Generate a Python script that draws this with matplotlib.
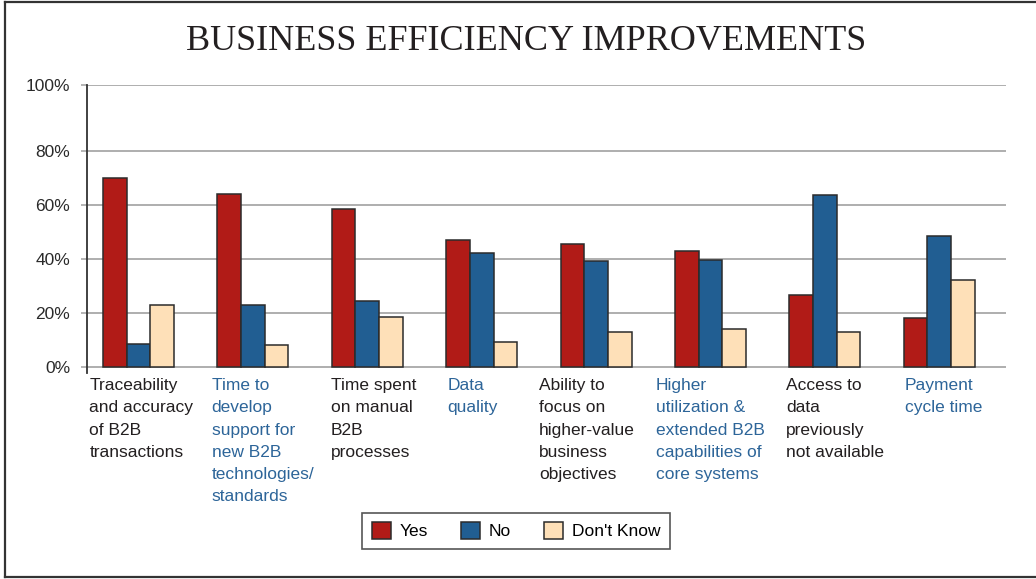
import matplotlib
matplotlib.use("Agg")
import matplotlib.pyplot as plt
import numpy as np
from matplotlib.lines import Line2D
from matplotlib.patches import Patch

# ---- data ----
categories = [
    "Traceability\nand accuracy\nof B2B\ntransactions",
    "Time to\ndevelop\nsupport for\nnew B2B\ntechnologies/\nstandards",
    "Time spent\non manual\nB2B\nprocesses",
    "Data\nquality",
    "Ability to\nfocus on\nhigher-value\nbusiness\nobjectives",
    "Higher\nutilization &\nextended B2B\ncapabilities of\ncore systems",
    "Access to\ndata\npreviously\nnot available",
    "Payment\ncycle time",
]
yes_vals = [70, 64, 58.5, 47, 45.5, 43, 26.5, 18]
no_vals = [8.5, 23, 24.5, 42, 39, 39.5, 63.5, 48.5]
dk_vals = [23, 8, 18.5, 9, 13, 14, 13, 32]
series_names = ["Yes", "No", "Don't Know"]
ytick_labels = ["0%", "20%", "40%", "60%", "80%", "100%"]

# ---- style / layout ----
colors = ["#b11b17", "#215e92", "#fee0b8"]
edge = "#2b2b2b"
label_colors = ["#231f20", "#2d6599"] * 4
label_dx = [-0.43, -0.36, -0.32, -0.30, -0.50, -0.48, -0.34, -0.30]
sans = ["Liberation Sans", "DejaVu Sans"]
serif = ["Liberation Serif", "DejaVu Serif"]
fs = 12.5

fig = plt.figure(figsize=(10.36, 5.79), dpi=100)
W, H = 1036, 579
ax = fig.add_axes([86.7 / W, 1 - 372.7 / H, (1006 - 86.7) / W, (372.7 - 85) / H])

x = np.arange(len(categories))
bw = 0.207
for k, vals in enumerate([yes_vals, no_vals, dk_vals]):
    ax.bar(x + (k - 1) * bw, vals, width=bw, color=colors[k], edgecolor=edge,
           linewidth=1.1, zorder=3)

ytop = 104.3
ax.set_ylim(-2.22, ytop)
ax.set_xlim(-0.453, 7.583)
ytick_pos = [0, 20, 40, 60, 80, ytop]
ax.set_yticks(ytick_pos)
ax.set_yticklabels(ytick_labels, fontfamily=sans, fontsize=fs, color="#2a2a2a")
for yp in ytick_pos:
    ax.axhline(yp, color="#a8a8a8", linewidth=1.3, zorder=1)
ax.tick_params(axis="y", length=4, width=1.2, color="#a8a8a8", pad=8)
ax.set_xticks([])
for s in ["top", "right", "bottom"]:
    ax.spines[s].set_visible(False)
ax.spines["left"].set_color("#333333")
ax.spines["left"].set_linewidth(1.3)
ax.spines["left"].set_zorder(4)

trans = ax.get_xaxis_transform()
for i, lab in enumerate(categories):
    ax.text(i + label_dx[i], -0.019, lab, transform=trans, ha="left", va="top",
            fontsize=fs, fontfamily=sans, color=label_colors[i], linespacing=1.6)

fig.text(0.508, 1 - 41 / H, "BUSINESS EFFICIENCY IMPROVEMENTS", ha="center", va="center",
         fontsize=26, fontfamily=serif, color="#231f20")

handles = [Patch(facecolor=colors[k], edgecolor=edge, linewidth=1.1) for k in range(3)]
leg = fig.legend(handles, series_names, loc="center", bbox_to_anchor=(516 / W, 1 - 530.7 / H),
                 ncol=3, frameon=True, fancybox=False, prop={"family": sans, "size": fs},
                 handlelength=1.1, handleheight=1.1, handletextpad=0.5, columnspacing=1.9,
                 borderpad=0.55, borderaxespad=0)
leg.get_frame().set_edgecolor("#2b2b2b")
leg.get_frame().set_linewidth(1.2)

# outer frame
for xs, ys in [([5 / W, 5 / W], [2 / H, 1 - 1.5 / H]),
               ([5 / W, 1.0], [1 - 1.5 / H, 1 - 1.5 / H]),
               ([5 / W, 1.0], [2 / H, 2 / H])]:
    fig.add_artist(Line2D(xs, ys, color="#333333", linewidth=1.6, transform=fig.transFigure))

fig.savefig("out.png", dpi=100)
